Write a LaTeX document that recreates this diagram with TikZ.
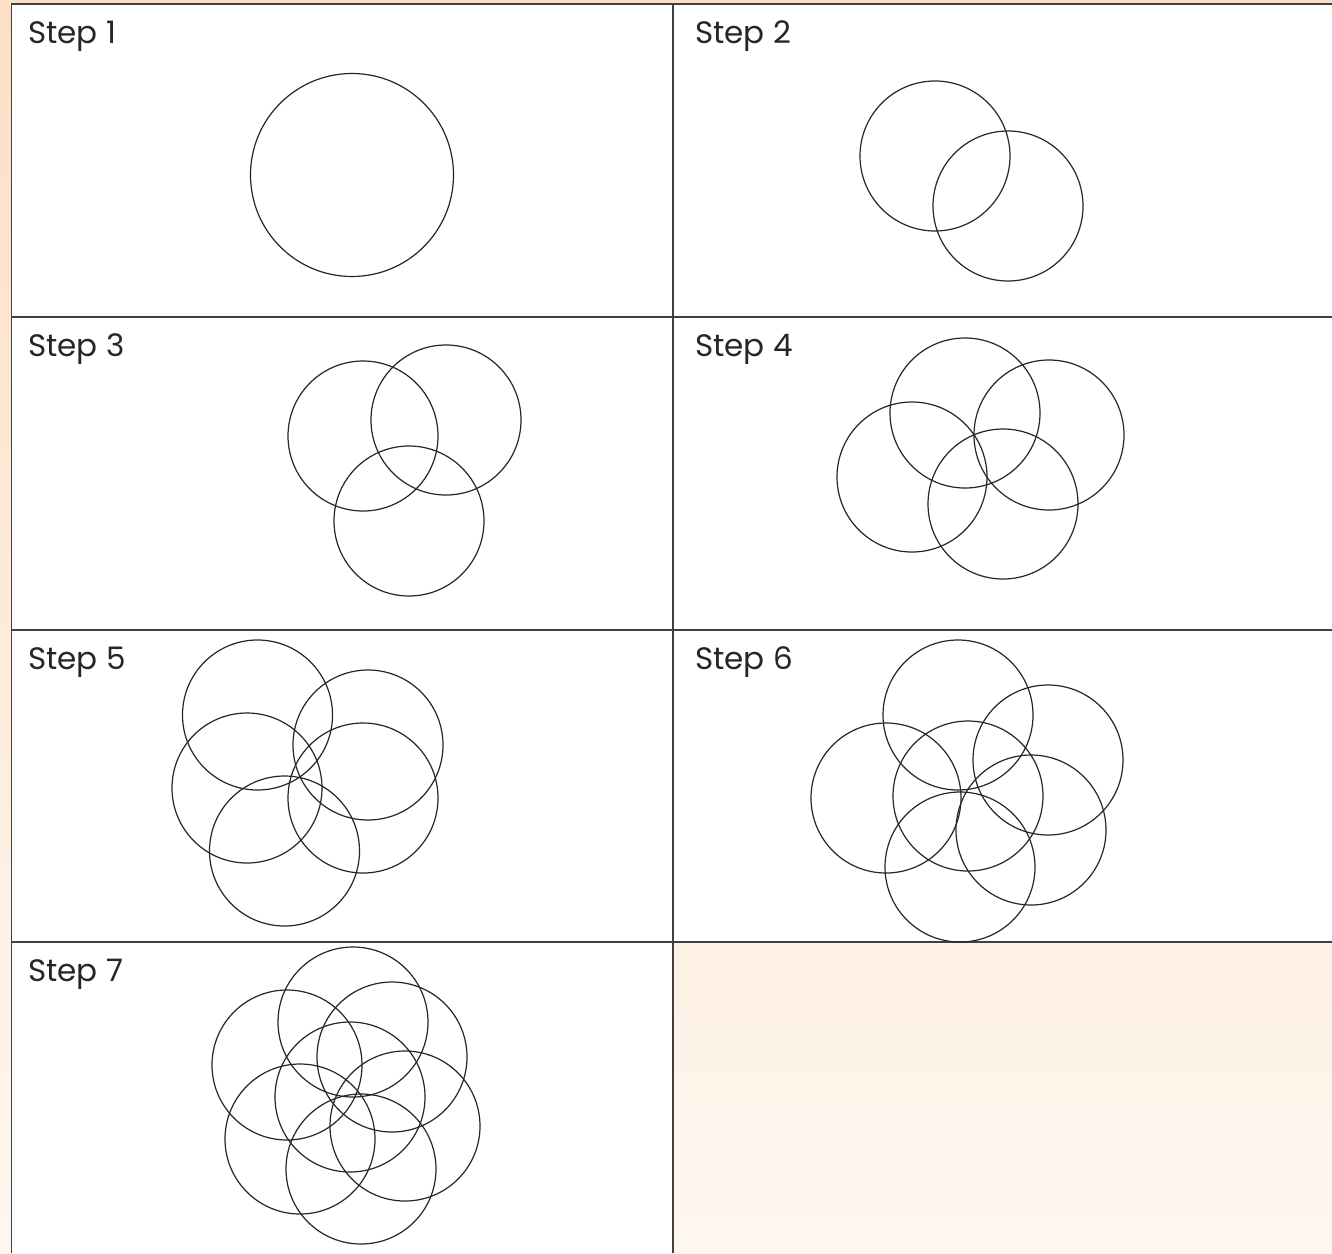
\documentclass[tikz,border=0pt]{standalone}
\usepackage{fontspec}
\setmainfont{Poppins}
\begin{document}
\begin{tikzpicture}[x=1pt,y=-1pt,
  ring/.style={draw=black!85,line width=1.2pt},
  grid/.style={draw=black!75,line width=1.7pt},
  lbl/.style={anchor=base west,inner sep=0pt,font=\fontsize{31}{36}\selectfont,text=black!85}]
\useasboundingbox (0,0) rectangle (1332,1253);
\shade[top color={rgb,255:red,253;green,223;blue,196},bottom color={rgb,255:red,254;green,247;blue,240}] (0,0) rectangle (1332,1253);
% white cells
\fill[white] (11.5,4) rectangle (1332,942);
\fill[white] (11.5,942) rectangle (673,1253);
% grid
\draw[grid] (11.5,1253) -- (11.5,4) -- (1332,4);
\draw[grid] (673,4) -- (673,1253);
\draw[grid] (11.5,317) -- (1332,317);
\draw[grid] (11.5,630) -- (1332,630);
\draw[grid] (11.5,942) -- (1332,942);
% labels
\node[lbl] (s1) at (28,43.5) {Step 1};
\node[lbl] (s2) at (695,43.5) {Step 2};
\node[lbl] (s3) at (28,356.5) {Step 3};
\node[lbl] (s4) at (695,356.5) {Step 4};
\node[lbl] (s5) at (28,669.5) {Step 5};
\node[lbl] (s6) at (695,669.5) {Step 6};
\node[lbl] (s7) at (28,981.5) {Step 7};
% step 1
\draw[ring] (352,175) circle (101.5);
% step 2
\draw[ring] (935,156) circle (75);
\draw[ring] (1008,206) circle (75);
% step 3
\draw[ring] (363,436) circle (75);
\draw[ring] (446,420) circle (75);
\draw[ring] (409,521) circle (75);
% step 4
\draw[ring] (965,413) circle (75);
\draw[ring] (1049,435) circle (75);
\draw[ring] (912,477) circle (75);
\draw[ring] (1003,504) circle (75);
% step 5
\draw[ring] (257.5,715) circle (75);
\draw[ring] (368,745) circle (75);
\draw[ring] (247,788) circle (75);
\draw[ring] (363,798) circle (75);
\draw[ring] (284.5,851) circle (75);
% step 6
\draw[ring] (958,715) circle (75);
\draw[ring] (1048,760) circle (75);
\draw[ring] (886,798) circle (75);
\draw[ring] (968,796) circle (75);
\draw[ring] (1031,830) circle (75);
\draw[ring] (960,867) circle (75);
% step 7
\draw[ring] (353,1022) circle (75);
\draw[ring] (392,1057) circle (75);
\draw[ring] (287,1065) circle (75);
\draw[ring] (350,1097) circle (75);
\draw[ring] (405,1126) circle (75);
\draw[ring] (300,1139) circle (75);
\draw[ring] (361,1169) circle (75);
\end{tikzpicture}
\end{document}
